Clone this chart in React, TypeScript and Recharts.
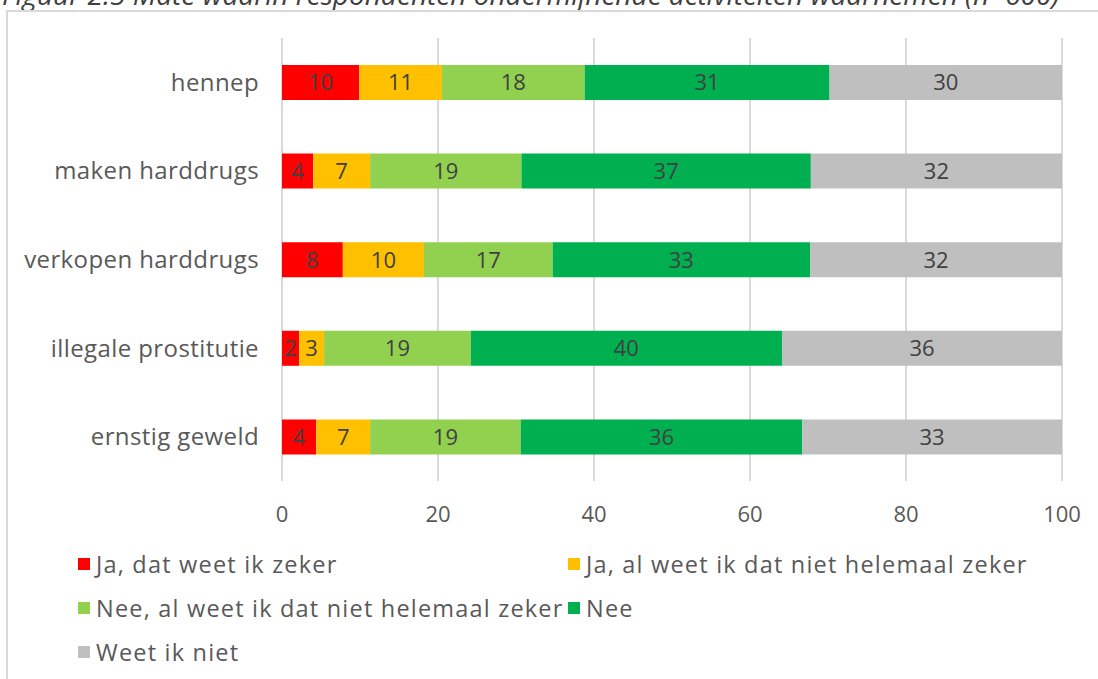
import { BarChart, Bar, XAxis, YAxis, CartesianGrid, LabelList } from 'recharts';

const categories = ['hennep', 'maken harddrugs', 'verkopen harddrugs', 'illegale prostitutie', 'ernstig geweld'];

// percentages per antwoord, in volgorde van categories
const jaZeker = [9.9, 4.0, 7.8, 2.2, 4.4];
const jaNietZeker = [10.6, 7.3, 10.4, 3.2, 6.9];
const neeNietZeker = [18.3, 19.4, 16.5, 18.8, 19.3];
const nee = [31.4, 37.1, 33.0, 39.9, 36.1];
const weetNiet = [29.8, 32.2, 32.3, 35.9, 33.3];

const xTicks = [0, 20, 40, 60, 80, 100];

const series = [
  { key: 'jaZeker', name: 'Ja, dat weet ik zeker', color: '#ff0000', values: jaZeker },
  { key: 'jaNietZeker', name: 'Ja, al weet ik dat niet helemaal zeker', color: '#ffc000', values: jaNietZeker },
  { key: 'neeNietZeker', name: 'Nee, al weet ik dat niet helemaal zeker', color: '#92d050', values: neeNietZeker },
  { key: 'nee', name: 'Nee', color: '#00b050', values: nee },
  { key: 'weetNiet', name: 'Weet ik niet', color: '#bfbfbf', values: weetNiet },
];

const data = categories.map((cat, i) => {
  const row: Record<string, string | number> = { cat };
  series.forEach((s) => {
    row[s.key] = s.values[i];
  });
  return row;
});

const FONT = '"Open Sans", "Noto Sans", sans-serif';
const TEXT = '#595959';

// legenda: twee kolommen
const legendPos = [
  { x: 78, y: 564 },
  { x: 568, y: 564 },
  { x: 78, y: 608 },
  { x: 568, y: 608 },
  { x: 78, y: 652 },
];

export default function App() {
  return (
    <div
      style={{
        position: 'absolute',
        left: 0,
        top: 0,
        width: 1098,
        height: 679,
        overflow: 'hidden',
        background: '#fff',
        fontFamily: FONT,
      }}
    >
      {/* afgesneden titel bovenaan */}
      <div
        style={{
          position: 'absolute',
          left: 2,
          top: -25,
          fontSize: 28,
          fontStyle: 'italic',
          color: '#404040',
          whiteSpace: 'nowrap',
          lineHeight: 'normal',
        }}
      >
        Figuur 2.5 Mate waarin respondenten ondermijnende activiteiten waarnemen (n=600)
      </div>
      <div
        style={{
          position: 'absolute',
          left: 6,
          top: 10,
          width: 1200,
          height: 800,
          border: '2px solid #d9d9d9',
        }}
      />
      <div style={{ position: 'absolute', left: 0, top: 0 }}>
        <BarChart
          width={1098}
          height={540}
          data={data}
          layout="vertical"
          margin={{ top: 38, right: 36, bottom: 29, left: 0 }}
          barSize={35}
        >
          <CartesianGrid horizontal={false} stroke="#d9d9d9" strokeWidth={2} />
          <XAxis
            type="number"
            domain={[0, 100]}
            ticks={xTicks}
            axisLine={false}
            tickLine={false}
            tickMargin={19}
            height={30}
            tick={{ fill: TEXT, fontSize: 22, fontFamily: FONT }}
          />
          <YAxis
            type="category"
            dataKey="cat"
            width={282}
            axisLine={false}
            tickLine={false}
            tickMargin={17}
            tick={{ fill: TEXT, fontSize: 24, fontFamily: FONT, letterSpacing: 0.4 }}
          />
          {series.map((s) => (
            <Bar key={s.key} dataKey={s.key} name={s.name} stackId="a" fill={s.color} isAnimationActive={false}>
              <LabelList
                dataKey={s.key}
                position="center"
                formatter={(v: any) => Math.round(Number(v))}
                style={{ fill: '#404040', fontSize: 22, fontFamily: FONT }}
              />
            </Bar>
          ))}
        </BarChart>
      </div>
      {series.map((s, i) => (
        <div
          key={s.key}
          style={{
            position: 'absolute',
            left: legendPos[i].x,
            top: legendPos[i].y - 16,
            height: 32,
            display: 'flex',
            alignItems: 'center',
            fontSize: 23.5,
            letterSpacing: 1.2,
            color: TEXT,
            whiteSpace: 'nowrap',
          }}
        >
          <span style={{ display: 'inline-block', width: 12, height: 12, background: s.color, marginRight: 6 }} />
          {s.name}
        </div>
      ))}
    </div>
  );
}
